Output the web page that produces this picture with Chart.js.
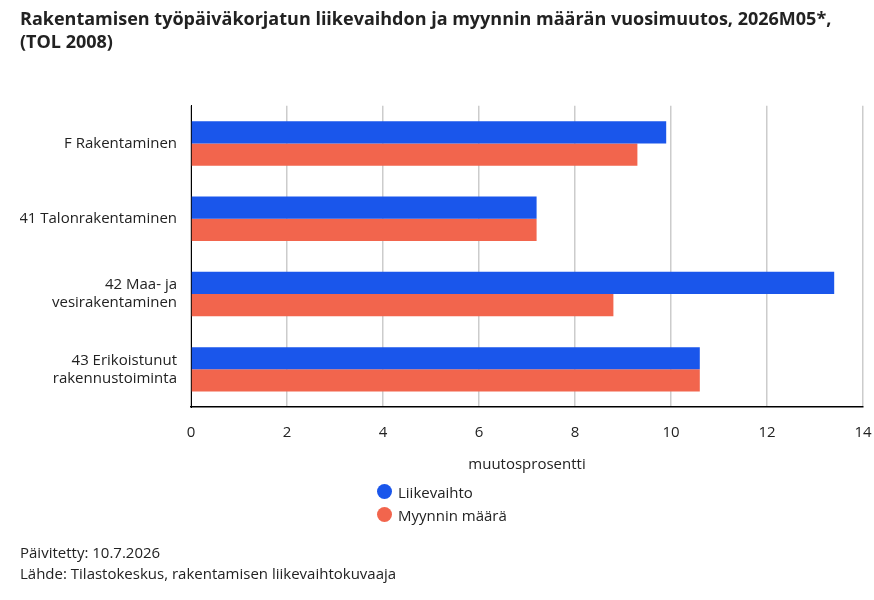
<!DOCTYPE html>
<html>
<head>
<meta charset="utf-8">
<script src="https://cdn.jsdelivr.net/npm/chart.js@4/dist/chart.umd.min.js"></script>
<style>
  body { margin: 0; background: #fff; font-family: "Open Sans", "Noto Sans", sans-serif; }
  #wrap { position: relative; width: 874px; height: 600px; }
  #chart { position: absolute; left: 0; top: 0; }
  #legend { position: absolute; left: 377px; top: 480px; font-size: 15px; color: #222; }
  #legend div { display: flex; align-items: center; height: 23px; }
  #legend span.dot { width: 15px; height: 15px; border-radius: 50%; margin-right: 6px; display: inline-block; }
  #footer { position: absolute; left: 20px; top: 542px; font-size: 15px; color: #222; line-height: 21px; }
</style>
</head>
<body>
<div id="wrap">
  <canvas id="chart" width="874" height="600"></canvas>
  <div id="legend"></div>
  <div id="footer">Päivitetty: 10.7.2026<br>Lähde: Tilastokeskus, rakentamisen liikevaihtokuvaaja</div>
</div>
<script>
const categories = [
  'F Rakentaminen',
  '41 Talonrakentaminen',
  ['42 Maa- ja', 'vesirakentaminen'],
  ['43 Erikoistunut', 'rakennustoiminta']
];
const seriesNames = ['Liikevaihto', 'Myynnin määrä'];
const liikevaihto = [9.9, 7.2, 13.4, 10.6];
const myynninMaara = [9.3, 7.2, 8.8, 10.6];
const xTicks = [0, 2, 4, 6, 8, 10, 12, 14];
const colors = ['#1a56eb', '#f2654d'];
const fontFamily = '"Open Sans", "Noto Sans", sans-serif';

const ctx = document.getElementById('chart').getContext('2d');
const chart = new Chart(ctx, {
  type: 'bar',
  data: {
    labels: categories,
    datasets: [
      { label: seriesNames[0], data: liikevaihto, backgroundColor: colors[0] },
      { label: seriesNames[1], data: myynninMaara, backgroundColor: colors[1] }
    ]
  },
  options: {
    indexAxis: 'y',
    responsive: false,
    animation: false,
    categoryPercentage: 0.59,
    barPercentage: 1.0,
    layout: { padding: { left: 20, right: 11, top: 0, bottom: 122 } },
    plugins: {
      legend: { display: false },
      tooltip: { enabled: false },
      title: {
        display: true,
        align: 'start',
        text: ['Rakentamisen työpäiväkorjatun liikevaihdon ja myynnin määrän vuosimuutos, 2026M05*,', '(TOL 2008)'],
        color: '#222',
        font: { family: fontFamily, size: 18, weight: 'bold', lineHeight: 1.3 },
        padding: { top: 8, bottom: 51 }
      }
    },
    scales: {
      x: {
        min: 0,
        max: 14,
        afterBuildTicks: (scale) => { scale.ticks = xTicks.map(v => ({ value: v })); },
        afterFit: (scale) => { scale.paddingRight = 0; },
        grid: { color: '#cccccc', lineWidth: 1.5, drawTicks: false },
        border: { color: '#000', width: 1.5 },
        ticks: { color: '#222', padding: 17, font: { family: fontFamily, size: 15 } },
        title: {
          display: true,
          text: 'muutosprosentti',
          color: '#222',
          padding: { top: -3 },
          font: { family: fontFamily, size: 15 }
        }
      },
      y: {
        grid: { display: false },
        border: { color: '#000', width: 1 },
        ticks: { color: '#222', padding: 6, font: { family: fontFamily, size: 15 } },
        afterFit: (scale) => { scale.width = 171; }
      }
    }
  }
});

// legend as HTML, built from the datasets
const legend = document.getElementById('legend');
chart.data.datasets.forEach(ds => {
  const row = document.createElement('div');
  row.innerHTML = '<span class="dot" style="background:' + ds.backgroundColor + '"></span>' + ds.label;
  legend.appendChild(row);
});
</script>
</body>
</html>
